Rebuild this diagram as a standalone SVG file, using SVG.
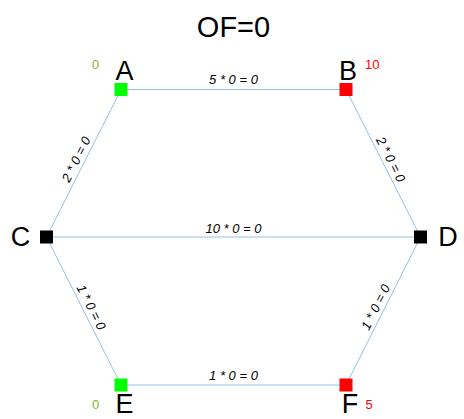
<svg xmlns="http://www.w3.org/2000/svg" width="464" height="419" viewBox="0 0 464 419">
<style>
.edge{stroke:#92c2e6;stroke-width:1;fill:none}
.el{font-family:"Liberation Sans",Arial,sans-serif;font-size:13px;font-style:italic;fill:#000;text-anchor:middle}
.nl{font-family:"Liberation Sans",Arial,sans-serif;font-size:27px;fill:#000;text-anchor:middle}
.val{font-family:"Liberation Sans",Arial,sans-serif;font-size:13px}
.g{fill:#7fb23c}
.r{fill:#ff0000}
</style>
<rect width="464" height="419" fill="#fff"/>
<text x="233.5" y="36.5" font-family="Liberation Sans, Arial, sans-serif" font-size="29" text-anchor="middle">OF=0</text>
<g id="connectors">
<line class="edge" x1="121" y1="89.5" x2="346" y2="89.5"/>
<line class="edge" x1="121" y1="89.5" x2="46.5" y2="237"/>
<line class="edge" x1="346" y1="89.5" x2="420.5" y2="237"/>
<line class="edge" x1="46.5" y1="237" x2="420.5" y2="237"/>
<line class="edge" x1="46.5" y1="237" x2="121" y2="385"/>
<line class="edge" x1="420.5" y1="237" x2="346" y2="385"/>
<line class="edge" x1="121" y1="385" x2="346" y2="385"/>
<text class="el" x="233.5" y="84">5 * 0 = 0</text>
<text class="el" x="233.5" y="233">10 * 0 = 0</text>
<text class="el" x="233.5" y="379.5">1 * 0 = 0</text>
<text class="el" transform="translate(83.7,163.2) rotate(-63.2)" y="-4">2 * 0 = 0</text>
<text class="el" transform="translate(383.2,163.2) rotate(63.2)" y="-4">2 * 0 = 0</text>
<text class="el" transform="translate(83.7,311) rotate(63.2)" y="-4">1 * 0 = 0</text>
<text class="el" transform="translate(383.2,311) rotate(-63.2)" y="-4">1 * 0 = 0</text>
</g>
<g id="A">
<rect x="114.5" y="83" width="13" height="13" fill="#00ff00"/>
<text class="nl" x="124.5" y="79.5">A</text>
<text class="val g" x="95.5" y="69" text-anchor="middle">0</text>
</g>
<g id="B">
<rect x="339.5" y="83" width="13" height="13" fill="#ff0000"/>
<text class="nl" x="348" y="79.5">B</text>
<text class="val r" x="365" y="69">10</text>
</g>
<g id="C">
<rect x="40" y="230.5" width="13" height="13" fill="#000"/>
<text class="nl" x="20.5" y="246">C</text>
</g>
<g id="D">
<rect x="414" y="230.5" width="13" height="13" fill="#000"/>
<text class="nl" x="448" y="246" text-anchor="start">D</text>
</g>
<g id="E">
<rect x="114.5" y="378.5" width="13" height="13" fill="#00ff00"/>
<text class="nl" x="124.5" y="413">E</text>
<text class="val g" x="95.5" y="408.5" text-anchor="middle">0</text>
</g>
<g id="F">
<rect x="339.5" y="378.5" width="13" height="13" fill="#ff0000"/>
<text class="nl" x="350" y="413">F</text>
<text class="val r" x="365.5" y="408.5">5</text>
</g>
</svg>
